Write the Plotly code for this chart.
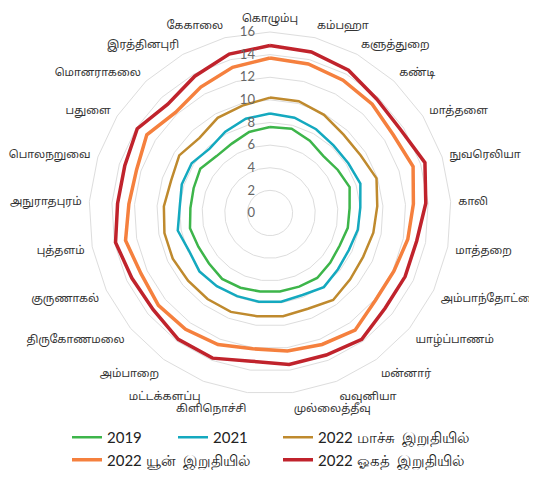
import plotly.graph_objects as go

districts = ["கொழும்பு", "கம்பஹா", "களுத்துறை", "கண்டி", "மாத்தளை", "நுவரெலியா", "காலி",
             "மாத்தறை", "அம்பாந்தோட்டை", "யாழ்ப்பாணம்", "மன்னார்", "வவுனியா", "முல்லைத்தீவு",
             "கிளிநொச்சி", "மட்டக்களப்பு", "அம்பாறை", "திருகோணமலை", "குருணாகல்", "புத்தளம்",
             "அநுராதபுரம்", "பொலநறுவை", "பதுளை", "மொனராகலை", "இரத்தினபுரி", "கேகாலை"]

v2019 = [7.6, 7.7, 7.3, 6.9, 7.1, 7.4, 7.05, 7.0, 6.8, 6.9, 7.1, 7.0, 7.0,
         7.0, 7.1, 7.2, 7.0, 7.0, 7.2, 7.05, 7.1, 7.3, 6.9, 7.0, 7.4]
v2021 = [8.8, 8.7, 8.45, 8.2, 8.2, 8.4, 8.0, 7.9, 7.7, 7.8, 8.1, 7.8, 7.9,
         7.9, 7.9, 8.0, 8.1, 7.9, 8.3, 8.0, 8.2, 8.2, 7.8, 8.2, 8.6]
v2022_mar = [10.2, 10.2, 9.9, 9.5, 9.5, 9.9, 9.5, 9.3, 9.1, 9.2, 9.5, 9.1, 9.2,
             9.2, 9.4, 9.4, 9.4, 9.5, 9.5, 9.4, 9.2, 9.5, 9.1, 9.6, 9.8]
v2022_jun = [13.7, 13.6, 13.4, 13.2, 12.9, 13.3, 12.7, 12.4, 12.1, 12.1, 12.8, 12.5, 12.3,
             12.1, 12.5, 12.7, 12.8, 12.6, 13.0, 12.5, 12.4, 12.9, 12.2, 12.7, 13.3]
v2022_aug = [14.8, 14.7, 14.4, 13.8, 13.7, 14.4, 13.8, 13.2, 13.2, 13.2, 13.8, 13.5, 13.5,
             13.2, 13.8, 13.8, 13.4, 13.5, 13.9, 13.5, 13.5, 13.9, 13.2, 13.8, 14.5]

series_names = ["2019", "2021", "2022 மாச்சு  இறுதியில்", "2022 யூன்  இறுதியில்", "2022 ஓகத்  இறுதியில்"]
series_values = [v2019, v2021, v2022_mar, v2022_jun, v2022_aug]
colors = ["#3DB54A", "#14A9BF", "#BF8A2E", "#F5803E", "#C0232C"]
widths = [2.5, 2.5, 2.5, 3.5, 3.5]
legend_ids = ["legend", "legend2", "legend3", "legend", "legend3"]

radial_ticks = [0, 2, 4, 6, 8, 10, 12, 14, 16]

fig = go.Figure()
for name, vals, col, w, lg in zip(series_names, series_values, colors, widths, legend_ids):
    fig.add_trace(go.Scatterpolar(
        r=vals + [vals[0]],
        theta=districts + [districts[0]],
        mode="lines",
        name=name,
        line=dict(color=col, width=w),
        legend=lg,
    ))

tamil_font = "Noto Sans Tamil, Lohit Tamil, Latha, Noto Sans, sans-serif"

# page body has an 8px margin: figure is 8px smaller and coordinates are offset by 8
OFF = 8
W, H = 537 - OFF, 479 - OFF
L, T, S = 89 - OFF, 32 - OFF, 362
def px_x(x):
    return (x - OFF - L) / S
def px_y(y):
    return (T + S - (y - OFF)) / S

leg_common = dict(xanchor="left", yanchor="top", orientation="v",
                  font=dict(size=15, family="Lato, Noto Sans, sans-serif", color="#222222"),
                  bgcolor="rgba(0,0,0,0)", borderwidth=0, tracegroupgap=0)

fig.update_layout(
    width=W, height=H,
    margin=dict(l=L, r=W - L - S, t=T, b=H - T - S, autoexpand=False),
    paper_bgcolor="white",
    plot_bgcolor="white",
    font=dict(family=tamil_font, color="#333333", size=11),
    polar=dict(
        bgcolor="white",
        gridshape="linear",
        domain=dict(x=[0, 1], y=[0, 1]),
        angularaxis=dict(
            rotation=90, direction="clockwise",
            showgrid=False, showline=True, linecolor="#dddddd", linewidth=1,
            ticks="outside", ticklen=5, tickcolor="rgba(0,0,0,0)",
            tickfont=dict(size=11, color="#333333"),
        ),
        radialaxis=dict(
            range=[0, 16], tickvals=radial_ticks, angle=90, tickangle=90,
            side="counterclockwise",
            showline=False, ticks="outside", ticklen=10, tickcolor="rgba(0,0,0,0)",
            gridcolor="#dddddd", gridwidth=1,
            tickfont=dict(size=13, color="#666666", family="Lato, sans-serif"),
        ),
    ),
    legend=dict(x=px_x(67), y=px_y(421), **leg_common),
    legend2=dict(x=px_x(173), y=px_y(421), **leg_common),
    legend3=dict(x=px_x(278), y=px_y(421), **leg_common),
)

fig.write_html("out.html")
